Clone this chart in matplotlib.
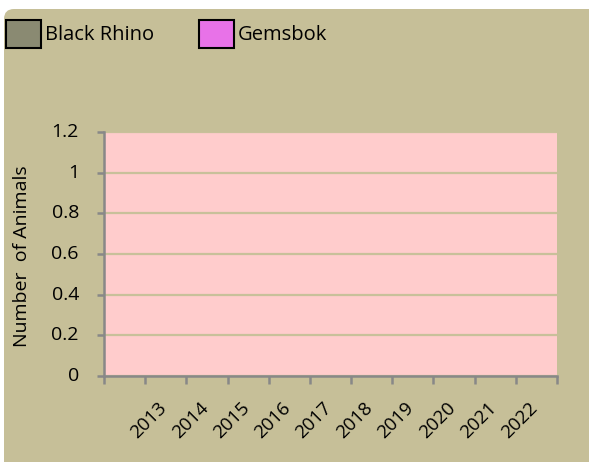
import numpy as np
import matplotlib
matplotlib.use("Agg")
import matplotlib.pyplot as plt
from matplotlib.patches import FancyBboxPatch, Patch
from matplotlib.transforms import IdentityTransform

# last category is blank in the source chart
years = ["2013", "2014", "2015", "2016", "2017", "2018", "2019", "2020", "2021", "2022", ""]
black_rhino = [0, 0, 0, 0, 0, 0, 0, 0, 0, 0, 0]
gemsbok = [0, 0, 0, 0, 0, 0, 0, 0, 0, 0, 0]
series_names = ["Black Rhino", "Gemsbok"]
series_colors = ["#8a8a72", "#e872e8"]
y_ticks = [0, 0.2, 0.4, 0.6, 0.8, 1.0, 1.2]

BG = "#c6bf98"
PINK = "#ffcccc"
GRID = "#c8c09a"
AXIS = "#888888"

plt.rcParams["font.family"] = ["Open Sans", "DejaVu Sans"]

fig = plt.figure(figsize=(5.89, 4.62), dpi=100)
fig.patch.set_facecolor("white")

# rounded chart background (pixel coords)
bg = FancyBboxPatch((4, 0 - 20), 605, 453 + 20, boxstyle="round,pad=0,rounding_size=10",
                    transform=IdentityTransform(), facecolor=BG, edgecolor="none", zorder=-5)
fig.patches.append(bg)

ax = fig.add_axes([104 / 589, 1 - 376 / 462, (557 - 104) / 589, (376 - 132) / 462])
ax.set_facecolor(PINK)

x = np.arange(len(years))
w = 0.35
ax.bar(x - w / 2, black_rhino, w, color=series_colors[0], linewidth=0)
ax.bar(x + w / 2, gemsbok, w, color=series_colors[1], linewidth=0)

ax.set_xlim(-0.5, len(years) - 0.5)
ax.set_ylim(0, 1.2)
ax.set_yticks(y_ticks)
ax.set_yticklabels([])
ax.yaxis.grid(True, color=GRID, linewidth=1.6)
ax.set_axisbelow(True)

for s in ["top", "right"]:
    ax.spines[s].set_visible(False)
for s in ["left", "bottom"]:
    ax.spines[s].set_color(AXIS)
    ax.spines[s].set_linewidth(1.8)

ax.set_xticks(np.arange(len(years) + 1) - 0.5)
ax.set_xticklabels([])
ax.tick_params(axis="x", length=6, width=1.8, color=AXIS, direction="out")
ax.tick_params(axis="y", length=5, width=1.8, color=AXIS, direction="out")

# tick labels placed like the Excel chart
for v in y_ticks:
    ax.annotate(f"{v:g}", xy=(0, v), xycoords=("axes fraction", "data"),
                xytext=(-25, 0), textcoords="offset pixels",
                ha="right", va="center", fontsize=14, annotation_clip=False)
for i, yr in enumerate(years):
    ax.annotate(yr, xy=(i, 0), xycoords=("data", "axes fraction"),
                xytext=(24.5, -44), textcoords="offset pixels", rotation=45,
                rotation_mode="anchor", ha="center", va="center", fontsize=13.5,
                annotation_clip=False)

fig.text(22 / 589, 1 - 256 / 462, "Number  of Animals", rotation=90, ha="center", va="center",
         fontsize=14)

handles = [Patch(facecolor=c, edgecolor="black", linewidth=1.5) for c in series_colors]
fig.legend(handles, series_names, loc="upper left", bbox_to_anchor=(0.0, 0.97), ncol=2,
           frameon=False, fontsize=14.5, handlelength=1.75, handleheight=1.75,
           handletextpad=0.2, columnspacing=2.2, borderaxespad=0.0, borderpad=0.3)

fig.savefig("out.png", dpi=100, facecolor=fig.get_facecolor())
